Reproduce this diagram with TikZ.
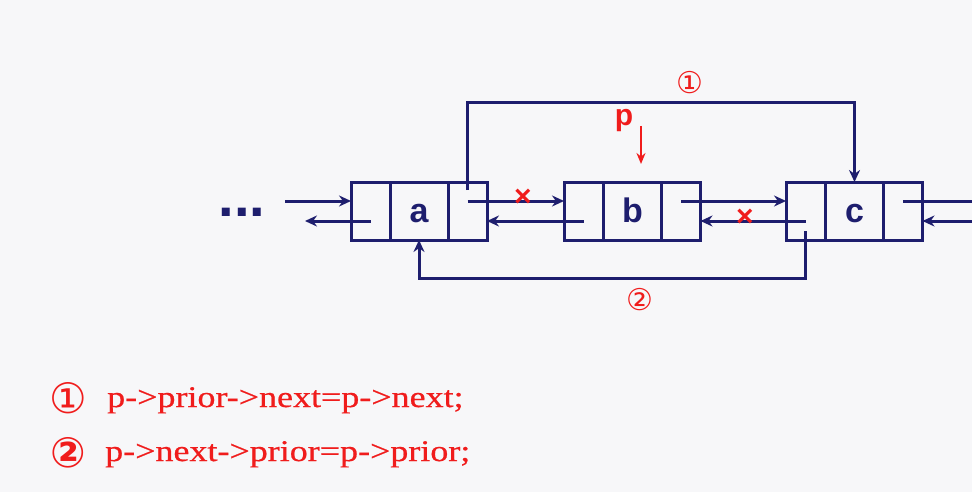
\documentclass[tikz,border=0pt]{standalone}
\usepackage{fontspec}
\usetikzlibrary{arrows.meta}
\newfontfamily\boxfont{Liberation Sans}
\newfontfamily\codefont{Liberation Serif}[FakeStretch=1.2,FakeBold=0.6]
\newfontfamily\circfont{DejaVu Sans}
\definecolor{navy}{RGB}{30,30,110}
\definecolor{redmark}{RGB}{240,28,28}
\definecolor{paper}{RGB}{247,247,249}
\begin{document}
\begin{tikzpicture}[x=1pt,y=-1pt,
    cell/.style={draw=navy,line width=3pt,minimum height=58pt,inner sep=0pt,outer sep=0pt},
    ptr/.style={cell,minimum width=39pt},
    dat/.style={cell,minimum width=58pt,text height=22pt,text depth=0pt,text=navy,font=\boxfont\bfseries\fontsize{34}{36}\selectfont},
    link/.style={navy,line width=3pt,-{Stealth[length=12pt,width=11pt]}},
    cut/.style={text=redmark,font=\boxfont\bfseries\fontsize{30}{32}\selectfont},
    num/.style={text=redmark,font=\circfont\fontsize{30}{32}\selectfont}]
  \fill[paper] (0,0) rectangle (972,492);
  \useasboundingbox (0,0) rectangle (972,492);
  % \helpgrid
  \node[text=navy,font=\boxfont\bfseries\fontsize{56}{56}\selectfont] (dots) at (242,212) {...};
  % node a
  \node[ptr] (a-l) at (370.5,211) {};
  \node[dat] (a-d) at (419,211) {a};
  \node[ptr] (a-r) at (467.5,211) {};
  % node b
  \node[ptr] (b-l) at (583.5,211) {};
  \node[dat] (b-d) at (632.5,211) {b};
  \node[ptr] (b-r) at (681,211) {};
  % node c
  \node[ptr] (c-l) at (805.5,211) {};
  \node[dat] (c-d) at (854.5,211) {c};
  \node[ptr] (c-r) at (903,211) {};
  \coordinate (in-l) at (285,201);
  \coordinate (out-l) at (305,221);
  \coordinate (out-r) at (972,201);
  \coordinate (in-r) at (972,221);
  % old links
  \draw[link] (in-l) -- ([yshift=10pt]a-l.west);
  \draw[link] ([yshift=-10pt]a-l.center) -- (out-l);
  \draw[link] ([yshift=10pt]a-r.center) -- ([yshift=10pt]b-l.west);
  \draw[link] ([yshift=-10pt]b-l.center) -- ([yshift=-10pt]a-r.east);
  \draw[link] ([yshift=10pt]b-r.center) -- ([yshift=10pt]c-l.west);
  \draw[link] ([yshift=-10pt]c-l.center) -- ([yshift=-10pt]b-r.east);
  \draw[navy,line width=3pt] ([yshift=10pt]c-r.center) -- (out-r);
  \draw[link] (in-r) -- ([yshift=-10pt]c-r.east);
  \node[cut] (x1) at (523,198) {×};
  \node[cut] (x2) at (745,218) {×};
  % new links
  \draw[link] ([yshift=21pt]a-r.center) |- (c-d.north |- 0,103) -- (c-d.north);
  \draw[link] ([yshift=-20pt]c-l.center) |- (a-d.south |- 0,278) -- (a-d.south);
  \node[num] (n1) at (690,83) {①};
  \node[num] (n2) at (640,300) {②};
  % pointer p
  \node[text=redmark,font=\boxfont\bfseries\fontsize{30}{32}\selectfont] (p) at (624,121) {p};
  \coordinate (p-from) at (641,126);
  \coordinate (p-to) at (641,164);
  \draw[redmark,line width=2.2pt,-{Stealth[length=11pt,width=9pt]}] (p-from) -- (p-to);
  % statements
  \node[text=redmark,font=\circfont\fontsize{42}{44}\selectfont] (s1) at (68,398) {①};
  \node[text=redmark,font=\circfont\bfseries\fontsize{42}{44}\selectfont] (s2) at (68,453) {②};
  \node[anchor=base west,inner sep=0pt,text=redmark,font=\codefont\fontsize{30}{32}\selectfont] (t1) at (107,407) {p->prior->next=p->next;};
  \node[anchor=base west,inner sep=0pt,text=redmark,font=\codefont\fontsize{30}{32}\selectfont] (t2) at (105,461) {p->next->prior=p->prior;};
\end{tikzpicture}
\end{document}
